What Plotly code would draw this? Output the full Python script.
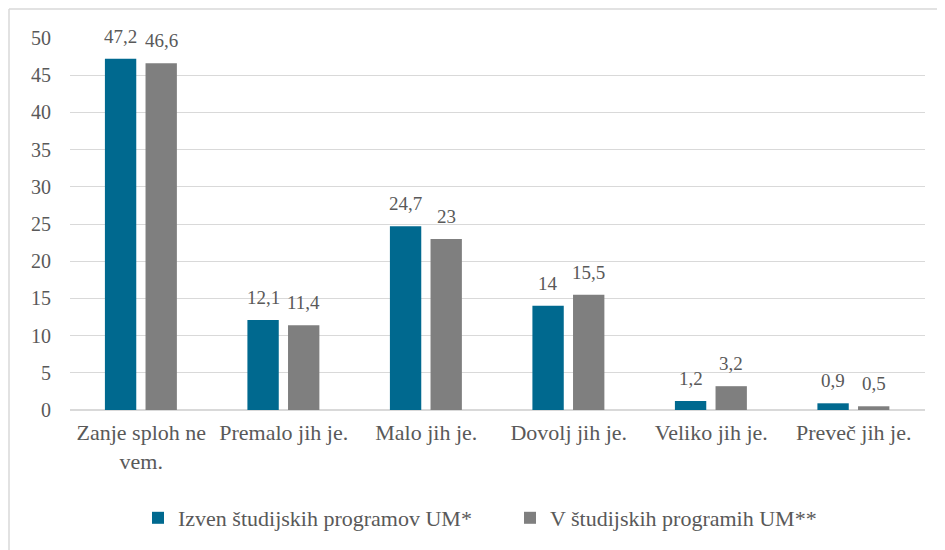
import plotly.graph_objects as go

categories = ["Zanje sploh ne<br>vem.", "Premalo jih je.", "Malo jih je.",
              "Dovolj jih je.", "Veliko jih je.", "Preveč jih je."]
series_names = ["Izven študijskih programov UM*", "V študijskih programih UM**"]
izven = [47.2, 12.1, 24.7, 14, 1.2, 0.9]
v_programih = [46.6, 11.4, 23, 15.5, 3.2, 0.5]
y_ticks = [0, 5, 10, 15, 20, 25, 30, 35, 40, 45, 50]

colors = ["#00698F", "#7F7F7F"]
text_color = "#595959"
font_family = "Liberation Serif"

W, H = 937, 542
ml, mr, mt, mb = 62, 20, 30, 140
plot_w = W - ml - mr
plot_h = H - mt - mb
cat_px = plot_w / len(categories)

bar_w = 0.22
offsets = [-0.255, 0.03]


def fmt(v):
    return f"{v:g}".replace(".", ",")


fig = go.Figure()
for name, vals, col, off in zip(series_names, [izven, v_programih], colors, offsets):
    fig.add_trace(go.Bar(
        x=categories, y=vals, name=name,
        marker=dict(color=col, line=dict(width=0)),
        width=bar_w, offset=off,
        hoverinfo="skip",
    ))
    xshift = (off + bar_w / 2) * cat_px
    for c, v in zip(categories, vals):
        fig.add_annotation(
            x=c, y=v, xref="x", yref="y", text=fmt(v), showarrow=False,
            xshift=xshift, yshift=10, yanchor="bottom",
            font=dict(family=font_family, size=19, color=text_color),
        )

# outer chart border (top and left visible)
px2x = lambda px: (px - ml) / plot_w
py2y = lambda py: (H - mb - py) / plot_h
fig.add_shape(type="line", xref="paper", yref="paper",
              x0=px2x(1), x1=px2x(960), y0=py2y(1), y1=py2y(1),
              line=dict(color="#D9D9D9", width=1.5))
fig.add_shape(type="line", xref="paper", yref="paper",
              x0=px2x(1), x1=px2x(1), y0=py2y(1), y1=py2y(560),
              line=dict(color="#D9D9D9", width=1.5))

fig.update_layout(
    width=W, height=H,
    margin=dict(l=ml, r=mr, t=mt, b=mb, autoexpand=False),
    paper_bgcolor="white", plot_bgcolor="white",
    barmode="overlay",
    showlegend=True,
    font=dict(family=font_family, color=text_color),
    legend=dict(
        orientation="h", x=px2x(130), xanchor="left",
        y=py2y(510), yanchor="middle",
        font=dict(family=font_family, size=22, color=text_color),
        itemwidth=30, entrywidth=327, entrywidthmode="pixels",
        traceorder="normal",
    ),
    xaxis=dict(
        type="category", showgrid=False, showline=False, zeroline=False,
        ticks="", tickfont=dict(family=font_family, size=22, color=text_color),
        ticklabelstandoff=7, fixedrange=True,
    ),
    yaxis=dict(
        range=[0, 50], tickvals=y_ticks, ticktext=[str(t) for t in y_ticks],
        showgrid=True, gridcolor="#D9D9D9", gridwidth=1.3,
        zeroline=True, zerolinecolor="#D9D9D9", zerolinewidth=1.5,
        showline=False, ticks="",
        tickfont=dict(family=font_family, size=20, color=text_color),
        ticklabelstandoff=18, fixedrange=True,
    ),
)

fig.write_html("out.html")
